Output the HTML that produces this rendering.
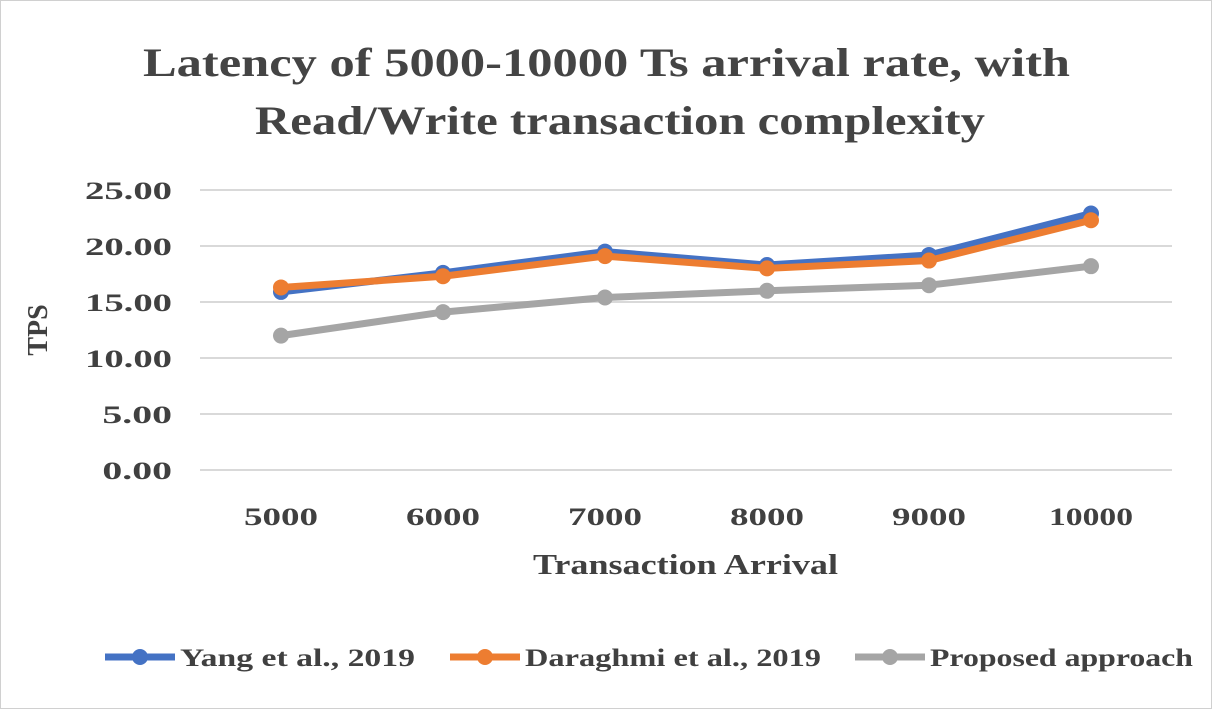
<!DOCTYPE html>
<html><head><meta charset="utf-8"><style>
body{margin:0;background:#fff;}
svg{display:block;font-family:"Liberation Serif",serif;font-weight:bold;}
</style></head><body>
<svg width="1212" height="709">
<rect x="0.5" y="0.5" width="1211" height="708" fill="#fff" stroke="#d0d0d0"/>
<text x="143" y="76" font-size="40" fill="#444" textLength="927" lengthAdjust="spacingAndGlyphs">Latency of 5000-10000  Ts arrival rate, with</text>
<text x="255" y="134" font-size="40" fill="#444" textLength="730" lengthAdjust="spacingAndGlyphs">Read/Write transaction complexity</text>
<g id="grid"></g>
<g id="yt"></g>
<g id="xt"></g>
<g id="series"></g>
<text x="0" y="0" transform="translate(47,330) rotate(-90)" text-anchor="middle" font-size="28" fill="#404040">TPS</text>
<text x="533" y="574" font-size="28" fill="#404040" textLength="305" lengthAdjust="spacingAndGlyphs">Transaction Arrival</text>
<g id="legend"></g>
</svg>
<script>
const categories=["5000","6000","7000","8000","9000","10000"];
const yTicks=[0,5,10,15,20,25];
const yang=[15.9,17.6,19.5,18.3,19.2,22.9];
const daraghmi=[16.3,17.3,19.1,18.0,18.7,22.3];
const proposed=[12.0,14.1,15.4,16.0,16.5,18.2];
const seriesNames=["Yang et al., 2019","Daraghmi et al., 2019","Proposed approach"];
const NS="http://www.w3.org/2000/svg";
const x0=200,x1=1172,y0=470,yTop=190,yMax=25;
const xs=i=>x0+(x1-x0)/categories.length*(i+0.5);
const ys=v=>y0-(y0-yTop)*v/yMax;
function mk(tag,attrs,parent){const e=document.createElementNS(NS,tag);for(const k in attrs)e.setAttribute(k,attrs[k]);parent.appendChild(e);return e;}
const grid=document.getElementById('grid'),yt=document.getElementById('yt'),xt=document.getElementById('xt');
yTicks.forEach(v=>{
 const l=mk('line',{x1:x0,x2:x1,y1:ys(v),y2:ys(v),stroke:'#d9d9d9','stroke-width':2},grid);
 
 
 const s=v.toFixed(2);
 const t=mk('text',{x:172,y:ys(v)+9,'text-anchor':'end','font-size':25,fill:'#404040',textLength:s.length*17.4,lengthAdjust:'spacingAndGlyphs'},yt);
 t.textContent=s;
 
 
});
categories.forEach((c,i)=>{
 const t=mk('text',{x:xs(i),y:525,'text-anchor':'middle','font-size':25,fill:'#404040',textLength:c.length===5?84:74,lengthAdjust:'spacingAndGlyphs'},xt);
 t.textContent=c;
 
 
});
const colors=["#4472c4","#ed7d31","#a5a5a5"];
const data=[yang,daraghmi,proposed];
const sg=document.getElementById('series');
[2,0,1].forEach(s=>{
 const g=mk('g',{},sg);
 
 
 const p=mk('polyline',{points:data[s].map((v,i)=>xs(i)+','+ys(v)).join(' '),fill:'none',stroke:colors[s],'stroke-width':7,'stroke-linejoin':'round'},g);
 
 
 data[s].forEach((v,i)=>{
  const c=mk('circle',{cx:xs(i),cy:ys(v),r:8,fill:colors[s]},g);
  
  
 });
});
const lg=document.getElementById('legend');
const lx=[105,450,855];
const lw=[235,296,263];
seriesNames.forEach((n,s)=>{
 const g=mk('g',{},lg);
 
 
 mk('line',{x1:lx[s],x2:lx[s]+70,y1:657,y2:657,stroke:colors[s],'stroke-width':7},g);
 mk('circle',{cx:lx[s]+35,cy:657,r:8,fill:colors[s]},g);
 const t=mk('text',{x:lx[s]+75,y:666,'font-size':25,fill:'#404040',textLength:lw[s],lengthAdjust:'spacingAndGlyphs'},g);
 t.textContent=n;
});
</script>
</body></html>
